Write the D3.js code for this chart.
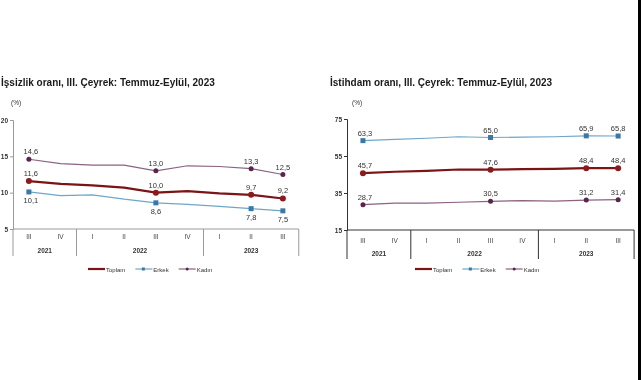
<!DOCTYPE html>
<html>
<head>
<meta charset="utf-8">
<script src="https://cdn.jsdelivr.net/npm/d3@7"></script>
<style>
  html, body { margin: 0; padding: 0; background: #fff; }
  svg { display: block; font-family: "Liberation Sans", Arial, sans-serif; }
</style>
</head>
<body>
<svg id="chart" width="641" height="380"></svg>
<script>
// Quarters and years
const quarters = ["III", "IV", "I", "II", "III", "IV", "I", "II", "III"];
const years = [
    { label: "2021", from: 0, to: 2 },
    { label: "2022", from: 2, to: 6 },
    { label: "2023", from: 6, to: 9 }
];
const seriesNames = ["Toplam", "Erkek", "Kadın"];

// Unemployment rate (İşsizlik oranı)
const unempTotal = [11.6, 11.2, 11.0, 10.7, 10.0, 10.2, 9.9, 9.7, 9.2];
const unempMale = [10.1, 9.6, 9.7, 9.1, 8.6, 8.4, 8.1, 7.8, 7.5];
const unempFemale = [14.6, 14.0, 13.8, 13.8, 13.0, 13.7, 13.6, 13.3, 12.5];
const unempTicks = [5, 10, 15, 20];

// Employment rate (İstihdam oranı)
const empTotal = [45.7, 46.5, 47.0, 47.7, 47.6, 47.9, 48.0, 48.4, 48.4];
const empMale = [63.3, 64.0, 64.6, 65.4, 65.0, 65.2, 65.4, 65.9, 65.8];
const empFemale = [28.7, 29.5, 29.5, 30.0, 30.5, 30.9, 30.6, 31.2, 31.4];
const empTicks = [15, 35, 55, 75];

// indexes of labelled points
const labelled = [0, 4, 7, 8];

const colors = { Toplam: "#7b1416", Erkek: "#6fa6c8", Kadın: "#8c6182" };
const markerColors = { Toplam: "#8b1a1c", Erkek: "#3a78a8", Kadın: "#5a2450" };

const fmt = v => d3.format(".1f")(v).replace(".", ",");

const svg = d3.select("#chart");

// plain greyscale text rendering through an identity filter
svg.append("defs").append("filter")
    .attr("id", "flat")
    .attr("filterUnits", "userSpaceOnUse")
    .attr("x", 0).attr("y", 0).attr("width", 641).attr("height", 380)
    .append("feOffset").attr("dx", 0).attr("dy", 0);

const root = svg.append("g").attr("filter", "url(#flat)");

root.append("rect").attr("x", 0).attr("y", 0).attr("width", 641).attr("height", 380).attr("fill", "#fff");

// black strip on right edge
root.append("rect").attr("x", 638).attr("y", 0).attr("width", 3).attr("height", 380).attr("fill", "#000");

function drawChart(opts) {
    const g = root.append("g");

    const x = d3.scalePoint()
        .domain(d3.range(quarters.length))
        .range([opts.left + opts.step / 2, opts.left + opts.step * (quarters.length - 0.5)]);

    const y = d3.scaleLinear()
        .domain(opts.domain)
        .range([opts.bottom, opts.top]);

    const right = opts.left + opts.step * quarters.length;

    // title
    g.append("text")
        .attr("x", opts.titleX).attr("y", 86)
        .attr("font-size", 10).attr("font-weight", "bold").attr("fill", "#1a1a1a")
        .text(opts.title);

    g.append("text")
        .attr("x", opts.left + opts.unitDx).attr("y", 105)
        .attr("font-size", 6.5).attr("fill", "#333")
        .text("(%)");

    // y axis
    const yAxis = g.append("g")
        .attr("transform", `translate(${opts.left},0)`)
        .call(d3.axisLeft(y).tickValues(opts.ticks).tickSize(3).tickFormat(d3.format("d")));
    yAxis.select(".domain").attr("stroke", opts.axisColor);
    yAxis.selectAll(".tick line").attr("stroke", opts.axisColor);
    yAxis.selectAll(".tick text").attr("font-size", 6.5).attr("fill", "#333")
        .attr("font-weight", "bold").attr("x", -5);

    // x axis line
    g.append("line")
        .attr("x1", opts.left).attr("x2", right)
        .attr("y1", opts.bottom).attr("y2", opts.bottom)
        .attr("stroke", opts.axisColor);

    // year separators
    const sepX = [0, 2, 6, 9].map(i => opts.left + opts.step * i);
    g.selectAll(".sep").data(sepX).enter().append("line")
        .attr("x1", d => d).attr("x2", d => d)
        .attr("y1", opts.bottom).attr("y2", opts.sepBottom)
        .attr("stroke", opts.axisColor);

    // quarter labels
    g.selectAll(".q").data(quarters).enter().append("text")
        .attr("x", (d, i) => x(i)).attr("y", opts.qY)
        .attr("text-anchor", "middle").attr("font-size", 6.5).attr("fill", "#444")
        .text(d => d);

    // year labels
    g.selectAll(".yr").data(years).enter().append("text")
        .attr("x", d => opts.left + opts.step * (d.from + d.to) / 2).attr("y", opts.yrY)
        .attr("text-anchor", "middle").attr("font-size", 6.5).attr("fill", "#333")
        .attr("font-weight", "bold")
        .text(d => d.label);

    const line = d3.line().x((d, i) => x(i)).y(d => y(d));

    opts.series.forEach(s => {
        g.append("path")
            .datum(s.values)
            .attr("fill", "none")
            .attr("stroke", colors[s.name])
            .attr("stroke-width", s.name === "Toplam" ? 2.2 : 1.2)
            .attr("d", line);

        const pts = g.selectAll(null).data(labelled).enter();
        if (s.name === "Erkek") {
            pts.append("rect")
                .attr("x", i => x(i) - 2.5).attr("y", i => y(s.values[i]) - 2.5)
                .attr("width", 5).attr("height", 5)
                .attr("fill", markerColors[s.name]);
        } else {
            pts.append("circle")
                .attr("cx", i => x(i)).attr("cy", i => y(s.values[i]))
                .attr("r", s.name === "Toplam" ? 3 : 2.5)
                .attr("fill", markerColors[s.name]);
        }

        pts.append("text")
            .attr("x", i => x(i) + (i === 0 ? 2 : 0))
            .attr("y", i => y(s.values[i]) + (s.below ? 11 : -5))
            .attr("text-anchor", "middle")
            .attr("font-size", 7.5).attr("fill", "#333")
            .text(i => fmt(s.values[i]));
    });

    // legend
    const lg = g.append("g").attr("transform", `translate(${opts.legendX},269)`);
    let lx = 0;
    seriesNames.forEach(name => {
        const item = lg.append("g").attr("transform", `translate(${lx},0)`);
        item.append("line").attr("x1", 0).attr("x2", 17).attr("y1", 0).attr("y2", 0)
            .attr("stroke", colors[name]).attr("stroke-width", name === "Toplam" ? 2.2 : 1.2);
        if (name === "Erkek") {
            item.append("rect").attr("x", 6.5).attr("y", -1.5).attr("width", 3).attr("height", 3)
                .attr("fill", markerColors[name]);
        } else if (name === "Kadın") {
            item.append("circle").attr("cx", 8.5).attr("cy", 0).attr("r", 1.5).attr("fill", markerColors[name]);
        }
        const t = item.append("text").attr("x", 18).attr("y", 2.5)
            .attr("font-size", 6).attr("fill", "#333").text(name);
        lx += 18 + t.node().getComputedTextLength() + 10;
    });
}

drawChart({
    title: "İşsizlik oranı, III. Çeyrek: Temmuz-Eylül, 2023",
    titleX: 1,
    left: 13, step: 31.75,
    top: 120, bottom: 229, domain: [5, 20], ticks: unempTicks,
    axisColor: "#9a9a9a",
    sepBottom: 256, qY: 239, yrY: 253,
    legendX: 88, unitDx: -2,
    series: [
        { name: "Kadın", values: unempFemale },
        { name: "Erkek", values: unempMale, below: true },
        { name: "Toplam", values: unempTotal }
    ]
});

drawChart({
    title: "İstihdam oranı, III. Çeyrek: Temmuz-Eylül, 2023",
    titleX: 330,
    left: 347, step: 31.9,
    top: 119, bottom: 230, domain: [15, 75], ticks: empTicks,
    axisColor: "#333",
    sepBottom: 259, qY: 243, yrY: 256,
    legendX: 415, unitDx: 5,
    series: [
        { name: "Kadın", values: empFemale },
        { name: "Erkek", values: empMale },
        { name: "Toplam", values: empTotal }
    ]
});
</script>
</body>
</html>
